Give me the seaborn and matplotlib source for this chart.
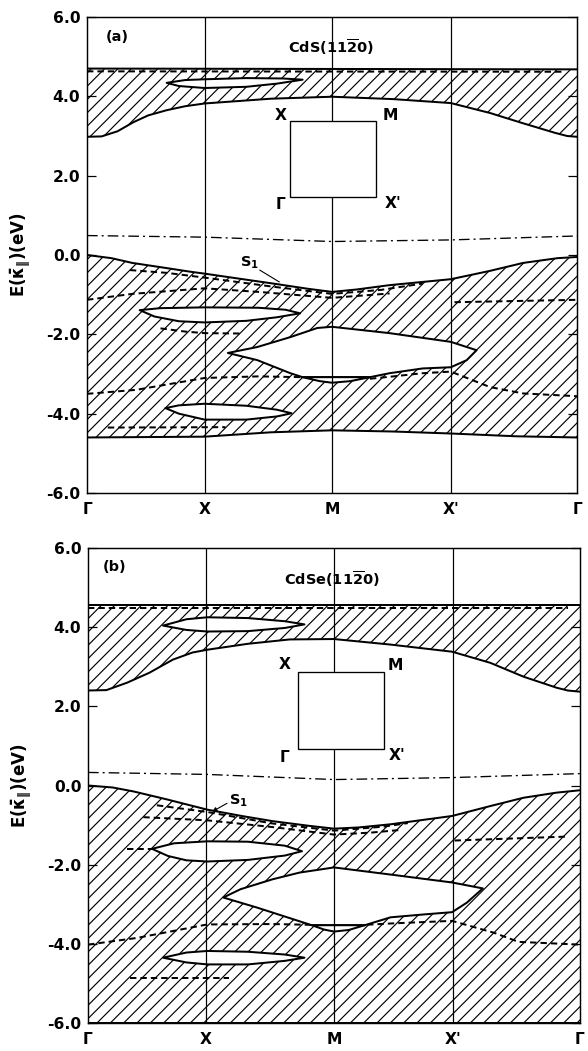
import matplotlib
matplotlib.use("Agg")
import matplotlib.pyplot as plt
import seaborn as sns
from matplotlib.patches import Rectangle

# ---------------- data ----------------
K_LABELS = ["Γ", "X", "M", "X'", "Γ"]
K_POS = [0.0, 0.96, 2.0, 2.97, 4.0]
Y_TICKS = [6.0, 4.0, 2.0, 0.0, -2.0, -4.0, -6.0]
TITLES = ["CdS(11$\\overline{2}$0)", "CdSe(11$\\overline{2}$0)"]
PANEL_TAGS = ["(a)", "(b)"]

# ---- panel (a): CdS ----
A_CB_TOP_K = [0.0, 4.0]
A_CB_TOP_E = [4.70, 4.68]
A_CB_BOT_K = [0.0, 0.12, 0.25, 0.38, 0.5, 0.65, 0.8, 0.96, 1.5, 2.0, 2.5, 2.97, 3.29, 3.55, 3.82, 3.92, 4.0]
A_CB_BOT_E = [2.98, 2.99, 3.12, 3.35, 3.52, 3.65, 3.75, 3.82, 3.94, 3.99, 3.93, 3.83, 3.58, 3.33, 3.08, 3.0, 2.98]
A_CBGAP_UP_K = [0.65, 0.8, 0.96, 1.3, 1.6, 1.76]
A_CBGAP_UP_E = [4.34, 4.41, 4.43, 4.46, 4.45, 4.42]
A_CBGAP_LO_K = [0.65, 0.75, 0.96, 1.3, 1.55, 1.76]
A_CBGAP_LO_E = [4.34, 4.26, 4.21, 4.24, 4.32, 4.42]
A_CB_DASH_K = [0.0, 3.9]
A_CB_DASH_E = [4.63, 4.62]

A_FERMI_K = [0.0, 0.96, 2.0, 2.97, 4.0]
A_FERMI_E = [0.49, 0.45, 0.34, 0.38, 0.48]

A_VB_TOP_K = [0.0, 0.2, 0.37, 0.65, 0.84, 0.96, 1.25, 1.52, 1.8, 2.0, 2.2, 2.47, 2.97, 3.29, 3.56, 3.84, 4.0]
A_VB_TOP_E = [0.0, -0.08, -0.2, -0.33, -0.42, -0.47, -0.6, -0.72, -0.85, -0.93, -0.87, -0.76, -0.61, -0.4, -0.2, -0.08, -0.05]
A_VB_BOT_K = [0.0, 0.96, 1.5, 2.0, 2.5, 2.97, 3.5, 4.0]
A_VB_BOT_E = [-4.6, -4.58, -4.47, -4.42, -4.45, -4.5, -4.57, -4.6]

A_GAP1_UP_K = [0.43, 0.6, 0.96, 1.4, 1.62, 1.74]
A_GAP1_UP_E = [-1.39, -1.34, -1.32, -1.33, -1.38, -1.47]
A_GAP1_LO_K = [0.43, 0.55, 0.75, 0.96, 1.3, 1.55, 1.74]
A_GAP1_LO_E = [-1.39, -1.55, -1.67, -1.7, -1.66, -1.57, -1.47]
A_GAP2_UP_K = [1.15, 1.39, 1.66, 1.88, 2.0, 2.47, 2.97, 3.18]
A_GAP2_UP_E = [-2.47, -2.32, -2.07, -1.84, -1.81, -1.97, -2.19, -2.4]
A_GAP2_LO_K = [1.15, 1.39, 1.66, 1.76, 2.0, 2.31, 2.47, 2.74, 2.97, 3.1, 3.18]
A_GAP2_LO_E = [-2.47, -2.65, -2.98, -3.08, -3.08, -3.08, -2.98, -2.86, -2.83, -2.65, -2.4]
A_GAPM_UP_K = [1.76, 2.31]
A_GAPM_UP_E = [-3.08, -3.08]
A_GAPM_LO_K = [1.76, 1.9, 2.0, 2.15, 2.31]
A_GAPM_LO_E = [-3.08, -3.18, -3.22, -3.18, -3.08]
A_GAP3_UP_K = [0.64, 0.75, 0.96, 1.3, 1.55, 1.67]
A_GAP3_UP_E = [-3.86, -3.79, -3.75, -3.8, -3.9, -3.99]
A_GAP3_LO_K = [0.64, 0.75, 0.96, 1.3, 1.55, 1.67]
A_GAP3_LO_E = [-3.86, -4.0, -4.15, -4.15, -4.07, -3.99]

A_D1_K = [0.35, 0.65, 0.96, 1.52, 2.0, 2.4, 2.74]
A_D1_E = [-0.38, -0.45, -0.57, -0.8, -0.98, -0.88, -0.72]
A_D2_K = [0.0, 0.37, 0.96, 1.4, 2.0, 2.47]
A_D2_E = [-1.13, -0.98, -0.84, -0.93, -1.08, -0.97]
A_D3_K = [3.0, 4.0]
A_D3_E = [-1.19, -1.13]
A_D4_K = [0.6, 0.8, 0.96, 1.27]
A_D4_E = [-1.85, -1.93, -1.97, -1.98]
A_D5_K = [0.0, 0.4, 0.96, 1.4, 1.76]
A_D5_E = [-3.5, -3.4, -3.1, -3.06, -3.08]
A_D6_K = [2.31, 2.47, 2.74, 2.97, 3.29, 3.56, 4.0]
A_D6_E = [-3.12, -3.07, -2.98, -2.94, -3.33, -3.49, -3.56]
A_D7_K = [0.17, 1.13]
A_D7_E = [-4.35, -4.34]

# ---- panel (b): CdSe ----
B_CB_TOP_K = [0.0, 4.0]
B_CB_TOP_E = [4.55, 4.55]
B_CB_BOT_K = [0.0, 0.15, 0.32, 0.5, 0.69, 0.85, 0.97, 1.3, 1.64, 2.0, 2.46, 2.96, 3.27, 3.54, 3.81, 3.9, 4.0]
B_CB_BOT_E = [2.40, 2.41, 2.6, 2.85, 3.18, 3.36, 3.43, 3.58, 3.69, 3.7, 3.56, 3.38, 3.1, 2.75, 2.47, 2.4, 2.37]
B_CBGAP_UP_K = [0.61, 0.8, 0.97, 1.3, 1.6, 1.76]
B_CBGAP_UP_E = [4.04, 4.2, 4.25, 4.23, 4.15, 4.07]
B_CBGAP_LO_K = [0.61, 0.8, 0.97, 1.3, 1.6, 1.76]
B_CBGAP_LO_E = [4.04, 3.93, 3.89, 3.9, 3.98, 4.07]
B_CB_DASH_K = [0.0, 3.9]
B_CB_DASH_E = [4.48, 4.48]

B_FERMI_K = [0.0, 0.97, 2.0, 2.96, 4.0]
B_FERMI_E = [0.33, 0.28, 0.15, 0.2, 0.3]

B_VB_TOP_K = [0.0, 0.2, 0.37, 0.64, 0.83, 0.97, 1.25, 1.5, 1.8, 2.0, 2.2, 2.46, 2.96, 3.27, 3.54, 3.81, 4.0]
B_VB_TOP_E = [0.0, -0.05, -0.15, -0.35, -0.5, -0.61, -0.77, -0.9, -1.02, -1.09, -1.06, -0.98, -0.77, -0.52, -0.31, -0.18, -0.12]
B_VB_BOT_K = [0.0, 4.0]
B_VB_BOT_E = [-6.0, -6.0]

B_GAP1_UP_K = [0.52, 0.7, 0.97, 1.3, 1.6, 1.74]
B_GAP1_UP_E = [-1.6, -1.46, -1.41, -1.42, -1.52, -1.66]
B_GAP1_LO_K = [0.52, 0.65, 0.8, 0.97, 1.3, 1.6, 1.74]
B_GAP1_LO_E = [-1.6, -1.78, -1.89, -1.92, -1.88, -1.77, -1.66]
B_GAP2_UP_K = [1.1, 1.24, 1.5, 1.72, 2.0, 2.46, 2.96, 3.21]
B_GAP2_UP_E = [-2.83, -2.62, -2.37, -2.2, -2.07, -2.25, -2.45, -2.6]
B_GAP2_LO_K = [1.1, 1.37, 1.72, 1.82, 2.25, 2.46, 2.72, 2.96, 3.08, 3.21]
B_GAP2_LO_E = [-2.83, -3.08, -3.43, -3.53, -3.53, -3.33, -3.26, -3.2, -2.96, -2.6]
B_GAPM_UP_K = [1.82, 2.25]
B_GAPM_UP_E = [-3.53, -3.53]
B_GAPM_LO_K = [1.82, 1.92, 2.0, 2.12, 2.25]
B_GAPM_LO_E = [-3.53, -3.64, -3.69, -3.65, -3.53]
B_GAP3_UP_K = [0.61, 0.8, 0.97, 1.3, 1.6, 1.76]
B_GAP3_UP_E = [-4.35, -4.22, -4.18, -4.2, -4.27, -4.35]
B_GAP3_LO_K = [0.61, 0.8, 0.97, 1.3, 1.6, 1.76]
B_GAP3_LO_E = [-4.35, -4.47, -4.52, -4.52, -4.43, -4.35]

B_D1_K = [0.56, 0.97, 1.5, 2.0, 2.4, 2.6]
B_D1_E = [-0.5, -0.67, -0.96, -1.14, -1.04, -0.95]
B_D2_K = [0.45, 0.97, 1.5, 2.0, 2.3, 2.55]
B_D2_E = [-0.8, -0.88, -1.05, -1.24, -1.19, -1.12]
B_D3_K = [0.32, 0.52]
B_D3_E = [-1.6, -1.6]
B_D4_K = [0.0, 0.4, 0.97, 1.5, 1.82, 2.25, 2.5, 2.96, 3.3, 3.5, 4.0]
B_D4_E = [-4.02, -3.85, -3.51, -3.5, -3.52, -3.52, -3.48, -3.42, -3.72, -3.95, -4.02]
B_D5_K = [0.34, 1.15]
B_D5_E = [-4.87, -4.87]
B_D6_K = [2.98, 3.9]
B_D6_E = [-1.39, -1.29]

PANELS = [
    dict(cb_top=(A_CB_TOP_K, A_CB_TOP_E), cb_bot=(A_CB_BOT_K, A_CB_BOT_E),
         cb_gaps=[(A_CBGAP_UP_K, A_CBGAP_UP_E, A_CBGAP_LO_K, A_CBGAP_LO_E)],
         cb_dash=[(A_CB_DASH_K, A_CB_DASH_E)],
         fermi=(A_FERMI_K, A_FERMI_E),
         vb_top=(A_VB_TOP_K, A_VB_TOP_E), vb_bot=(A_VB_BOT_K, A_VB_BOT_E),
         vb_gaps=[(A_GAP1_UP_K, A_GAP1_UP_E, A_GAP1_LO_K, A_GAP1_LO_E),
                  (A_GAP2_UP_K, A_GAP2_UP_E, A_GAP2_LO_K, A_GAP2_LO_E),
                  (A_GAPM_UP_K, A_GAPM_UP_E, A_GAPM_LO_K, A_GAPM_LO_E),
                  (A_GAP3_UP_K, A_GAP3_UP_E, A_GAP3_LO_K, A_GAP3_LO_E)],
         vb_dash=[(A_D1_K, A_D1_E), (A_D2_K, A_D2_E), (A_D3_K, A_D3_E), (A_D4_K, A_D4_E),
                  (A_D5_K, A_D5_E), (A_D6_K, A_D6_E), (A_D7_K, A_D7_E)]),
    dict(cb_top=(B_CB_TOP_K, B_CB_TOP_E), cb_bot=(B_CB_BOT_K, B_CB_BOT_E),
         cb_gaps=[(B_CBGAP_UP_K, B_CBGAP_UP_E, B_CBGAP_LO_K, B_CBGAP_LO_E)],
         cb_dash=[(B_CB_DASH_K, B_CB_DASH_E)],
         fermi=(B_FERMI_K, B_FERMI_E),
         vb_top=(B_VB_TOP_K, B_VB_TOP_E), vb_bot=(B_VB_BOT_K, B_VB_BOT_E),
         vb_gaps=[(B_GAP1_UP_K, B_GAP1_UP_E, B_GAP1_LO_K, B_GAP1_LO_E),
                  (B_GAP2_UP_K, B_GAP2_UP_E, B_GAP2_LO_K, B_GAP2_LO_E),
                  (B_GAPM_UP_K, B_GAPM_UP_E, B_GAPM_LO_K, B_GAPM_LO_E),
                  (B_GAP3_UP_K, B_GAP3_UP_E, B_GAP3_LO_K, B_GAP3_LO_E)],
         vb_dash=[(B_D1_K, B_D1_E), (B_D2_K, B_D2_E), (B_D3_K, B_D3_E), (B_D4_K, B_D4_E),
                  (B_D5_K, B_D5_E), (B_D6_K, B_D6_E)]),
]

# ---------------- style ----------------
sns.set_style("ticks")
plt.rcParams["font.family"] = ["DejaVu Sans"]
plt.rcParams["font.weight"] = "bold"
plt.rcParams["axes.unicode_minus"] = False
plt.rcParams["hatch.linewidth"] = 1.05
plt.rcParams["hatch.color"] = "black"
plt.rcParams["mathtext.fontset"] = "dejavusans"
plt.rcParams["mathtext.default"] = "bf"
for key in ["text.color", "axes.labelcolor", "xtick.color", "ytick.color",
            "axes.edgecolor", "xtick.labelcolor", "ytick.labelcolor"]:
    plt.rcParams[key] = "black"

DPI = 80
fig = plt.figure(figsize=(588 / DPI, 1051 / DPI), dpi=DPI)
W, H = 588.0, 1051.0
ax_a = fig.add_axes([87 / W, 1 - 493 / H, 490 / W, 476 / H])
ax_b = fig.add_axes([88 / W, 1 - 1023 / H, 492 / W, 475 / H])

LW = 1.8
DASH = (0, (3.2, 2.0))


def line(ax, k, e, ls="-", lw=LW, z=6):
    sns.lineplot(x=k, y=e, ax=ax, color="black", lw=lw, linestyle=ls,
                 estimator=None, sort=False, legend=False, zorder=z)


def band(ax, top, bot):
    xs = list(top[0]) + list(bot[0])[::-1]
    ys = list(top[1]) + list(bot[1])[::-1]
    ax.fill(xs, ys, facecolor="none", edgecolor="black", hatch="//", lw=0, zorder=1)
    line(ax, top[0], top[1])
    line(ax, bot[0], bot[1])


def gap(ax, g):
    uk, ue, lk, le = g
    xs = list(uk) + list(lk)[::-1]
    ys = list(ue) + list(le)[::-1]
    ax.fill(xs, ys, facecolor="white", edgecolor="black", lw=LW, zorder=3,
            joinstyle="round")


for i, (ax, p) in enumerate(zip([ax_a, ax_b], PANELS)):
    ax.set_xlim(0, 4)
    ax.set_ylim(-6, 6)
    band(ax, p["cb_top"], p["cb_bot"])
    band(ax, p["vb_top"], p["vb_bot"])
    for d in p["cb_dash"] + p["vb_dash"]:
        line(ax, d[0], d[1], ls=DASH, lw=LW, z=2)
    for g in p["cb_gaps"] + p["vb_gaps"]:
        gap(ax, g)
    line(ax, p["fermi"][0], p["fermi"][1], ls=(0, (8, 3, 1.5, 3)), lw=1.2, z=4)
    for kx in K_POS[1:-1]:
        ax.axvline(kx, color="black", lw=1.1, zorder=4)

    ax.set_yticks(Y_TICKS)
    ax.set_yticklabels([f"{v:.1f}" for v in Y_TICKS], fontsize=14, fontweight="bold")
    ax.tick_params(axis="y", direction="in", length=8, width=1.1, right=True, pad=6,
                   colors="black")
    ax.set_xticks(K_POS)
    ax.set_xticklabels(K_LABELS, fontsize=14, fontweight="bold")
    ax.tick_params(axis="x", length=0, pad=8, colors="black")
    for s in ax.spines.values():
        s.set_linewidth(1.3)
        s.set_color("black")
        s.set_visible(True)
    ax.set_xlabel("")
    ax.set_ylabel("")

    ax.text(-0.135, 0.0, "E($\\bar{\\kappa}_{\\|}$)(eV)", transform=ax.get_yaxis_transform(),
            rotation=90, ha="center", va="center", fontsize=15, fontweight="bold",
            color="black")

panel_text = [
    dict(tag=(0.25, 5.5), title=(1.99, 5.25),
         box=(1.66, 1.46, 0.70, 1.92),
         lab=[("X", 1.58, 3.51), ("M", 2.48, 3.51), ("Γ", 1.58, 1.27), ("X'", 2.5, 1.3)],
         s1=(1.33, -0.2), s1_from=(1.41, -0.38), s1_to=(1.57, -0.68), arrow=False),
    dict(tag=(0.22, 5.53), title=(1.98, 5.2),
         box=(1.71, 0.91, 0.70, 1.97),
         lab=[("X", 1.6, 3.06), ("M", 2.5, 3.03), ("Γ", 1.6, 0.7), ("X'", 2.51, 0.76)],
         s1=(1.22, -0.38), s1_from=(1.13, -0.45), s1_to=(1.01, -0.66), arrow=True),
]

for i, (ax, t) in enumerate(zip([ax_a, ax_b], panel_text)):
    ax.text(t["tag"][0], t["tag"][1], PANEL_TAGS[i], ha="center", va="center",
            fontsize=13, fontweight="bold", zorder=8, color="black")
    ax.text(t["title"][0], t["title"][1], TITLES[i], ha="center", va="center",
            fontsize=13, fontweight="bold", zorder=8, color="black")
    bx, by, bw, bh = t["box"]
    ax.add_patch(Rectangle((bx, by), bw, bh, facecolor="white", edgecolor="black",
                           lw=1.2, zorder=7))
    for s, x, y in t["lab"]:
        ax.text(x, y, s, ha="center", va="center", fontsize=14, fontweight="bold",
                zorder=8, color="black")
    ax.text(t["s1"][0], t["s1"][1], "S$_\\mathbf{1}$", ha="center", va="center",
            fontsize=13, fontweight="bold", zorder=8, color="black")
    ax.annotate("", xy=t["s1_to"], xytext=t["s1_from"],
                arrowprops=dict(arrowstyle="-|>" if t["arrow"] else "-", color="black",
                                lw=1.0, mutation_scale=8, shrinkA=0, shrinkB=0),
                zorder=8)

fig.savefig("out.png", dpi=DPI, facecolor="white")
